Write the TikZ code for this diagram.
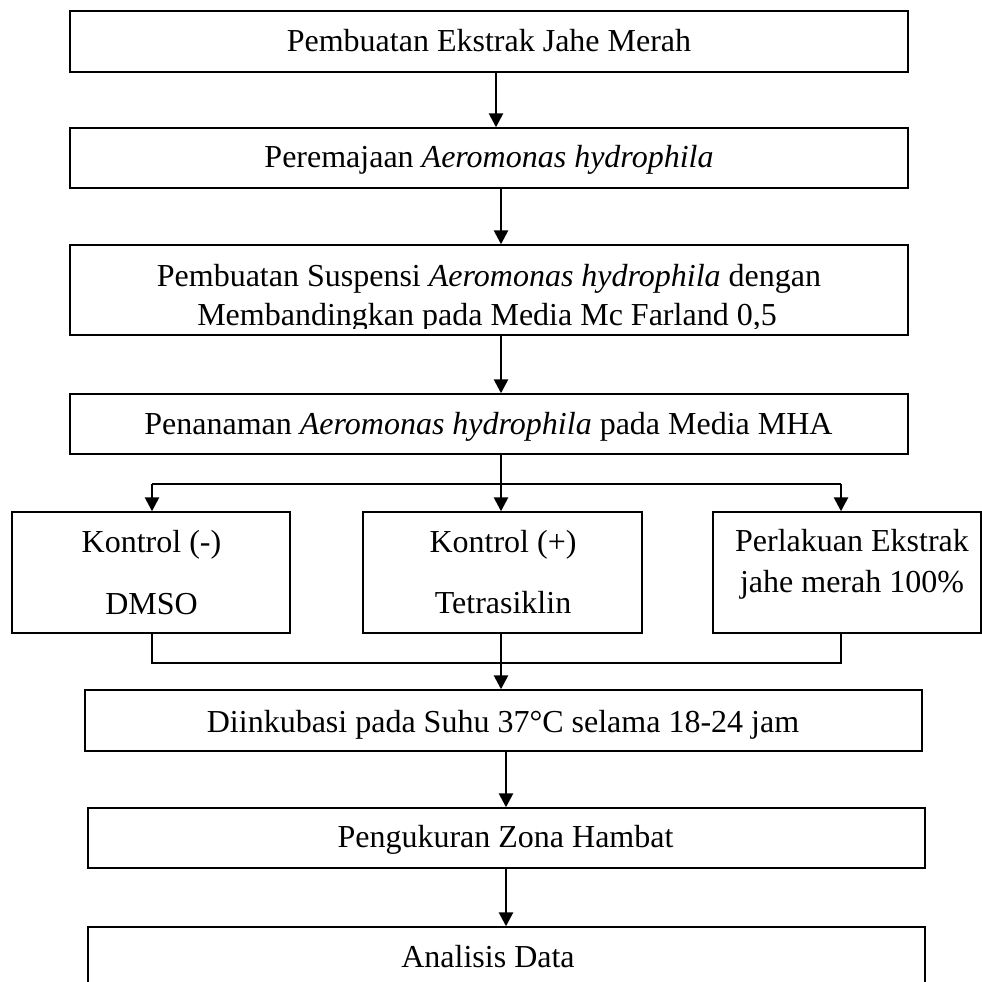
\documentclass[tikz,border=0pt]{standalone}
\usepackage{fontspec}
\setmainfont{Liberation Serif}
\usetikzlibrary{arrows.meta}
\begin{document}
\begin{tikzpicture}[x=1pt,y=-1pt,
  box/.style={draw=black,line width=1.4pt,rectangle,inner sep=0pt},
  txt/.style={inner sep=0pt,anchor=base,font=\fontsize{32}{38}\selectfont},
  conn/.style={draw=black,line width=2.6pt},
  arr/.style={conn,-{Triangle[length=14pt,width=14pt]}}]
\useasboundingbox (0,0) rectangle (982,982);
\clip (0,0) rectangle (982,982);
% boxes
\node[box,minimum width=838pt,minimum height=61pt] (b1) at (489,41.5) {};
\node[box,minimum width=838pt,minimum height=60pt] (b2) at (489,158) {};
\node[box,minimum width=838pt,minimum height=90pt] (b3) at (489,290) {};
\node[box,minimum width=838pt,minimum height=60pt] (b4) at (489,424) {};
\node[box,minimum width=278pt,minimum height=121pt] (b5a) at (151,572.5) {};
\node[box,minimum width=279pt,minimum height=121pt] (b5b) at (502.5,572.5) {};
\node[box,minimum width=268pt,minimum height=121pt] (b5c) at (847,572.5) {};
\node[box,minimum width=837pt,minimum height=61pt] (b6) at (503.5,720.5) {};
\node[box,minimum width=837pt,minimum height=60pt] (b7) at (506.5,838) {};
\node[box,minimum width=837pt,minimum height=63pt] (b8) at (506.5,958.5) {};
% texts
\node[txt] (t1) at (489,52) {Pembuatan Ekstrak Jahe Merah};
\node[txt] (t2) at (489,167) {Peremajaan \textit{Aeromonas hydrophila}};
\node[txt] (t3a) at (489,286) {Pembuatan Suspensi \textit{Aeromonas hydrophila} dengan};
\begin{scope}
\clip (70,300) rectangle (908,328);
\node[txt] (t3b) at (487,325) {Membandingkan pada Media Mc Farland 0,5};
\end{scope}
\node[txt] (t4) at (488.5,434) {Penanaman \textit{Aeromonas hydrophila} pada Media MHA};
\node[txt] (t5a1) at (151.5,552) {Kontrol (-)};
\node[txt] (t5a2) at (151.5,614) {DMSO};
\node[txt] (t5b1) at (503,552) {Kontrol (+)};
\node[txt] (t5b2) at (503,613) {Tetrasiklin};
\node[txt] (t5c1) at (852,551) {Perlakuan Ekstrak};
\node[txt] (t5c2) at (852,592) {jahe merah 100\%};
\node[txt] (t6) at (503,732) {Diinkubasi pada Suhu 37°C selama 18-24 jam};
\node[txt] (t7) at (505.5,847) {Pengukuran Zona Hambat};
\node[txt] (t8) at (488,967) {Analisis Data};
% connectors
\draw[arr] ([xshift=7pt]b1.south) -- ([xshift=7pt]b2.north);
\draw[arr] ([xshift=12pt]b2.south) -- ([xshift=12pt]b3.north);
\draw[arr] ([xshift=12pt]b3.south) -- ([xshift=12pt]b4.north);
\coordinate (split) at (501,484);
\coordinate (sL) at (152,484);
\coordinate (sR) at (841,484);
\draw[conn] ([xshift=12pt]b4.south) -- (split);
\draw[conn] (sL) -- (sR);
\draw[arr] (sL) -- (sL |- b5a.north);
\draw[arr] (split) -- (split |- b5b.north);
\draw[arr] (sR) -- (sR |- b5c.north);
\coordinate (merge) at (501,663);
\coordinate (mL) at (152,663);
\coordinate (mR) at (841,663);
\draw[conn] (mL |- b5a.south) -- (mL) -- (mR) -- (mR |- b5c.south);
\draw[conn] (merge |- b5b.south) -- (merge);
\draw[arr] (merge) -- (merge |- b6.north);
\draw[arr] ([xshift=2.5pt]b6.south) -- ([xshift=-0.5pt]b7.north);
\draw[arr] ([xshift=-0.5pt]b7.south) -- ([xshift=-0.5pt]b8.north);
\end{tikzpicture}
\end{document}
